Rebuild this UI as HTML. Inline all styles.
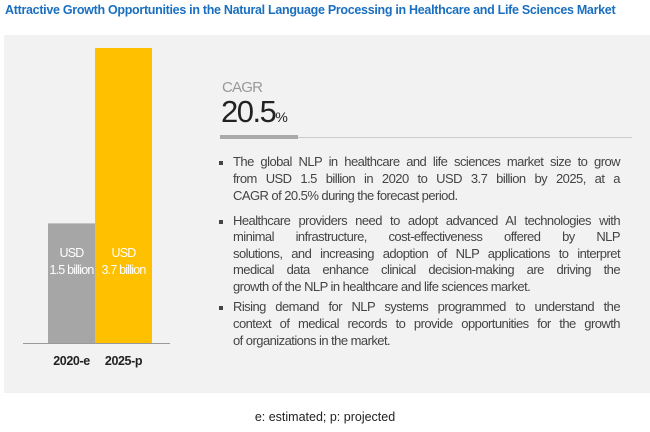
<!DOCTYPE html>
<html><head><meta charset="utf-8"><style>
body{margin:0;width:650px;height:432px;background:#fff;font-family:"Liberation Sans",sans-serif;position:relative;overflow:hidden}
.abs{position:absolute}
#title{left:5px;top:3px;font-size:12.5px;font-weight:bold;color:#1a6fc0;letter-spacing:-0.3px;white-space:nowrap}
#panel{left:4px;top:35px;width:646px;height:358px;background:#f2f2f2}
.bul{position:absolute;left:233px;width:387px;font-size:13px;line-height:16.8px;color:#444;letter-spacing:-0.55px}
.bul span{display:block;text-align:justify;text-align-last:justify;white-space:nowrap}
.bul span.l{text-align-last:left}
.bul::before{content:"";position:absolute;left:-14px;top:7px;width:4px;height:4px;background:#444}
</style></head><body>
<div id="title" class="abs">Attractive Growth Opportunities in the Natural Language Processing in Healthcare and Life Sciences Market</div>
<div id="panel" class="abs"></div>
<svg class="abs" style="left:0;top:0" width="650" height="432" id="chart"></svg>
<div class="abs" style="left:222px;top:79px;font-size:15px;color:#999;letter-spacing:-0.8px">CAGR</div>
<div class="abs" style="left:221px;top:94px;font-size:31px;color:#222;letter-spacing:-1.5px">20.5<span style="font-size:14px;letter-spacing:0">%</span></div>
<div class="abs" style="left:220px;top:137px;width:412px;height:1px;background:#ccc"></div>
<div class="abs" style="left:220px;top:135px;width:78px;height:4px;background:#aaa"></div>
<div class="bul" style="top:154px"><span>The global NLP in healthcare and life sciences market size to grow</span><span>from USD 1.5 billion in 2020 to USD 3.7 billion by 2025, at a</span><span class="l">CAGR of 20.5% during the forecast period.</span></div>
<div class="bul" style="top:213px;line-height:16.4px"><span>Healthcare providers need to adopt advanced AI technologies with</span><span>minimal infrastructure, cost-effectiveness offered by NLP</span><span>solutions, and increasing adoption of NLP applications to interpret</span><span>medical data enhance clinical decision-making are driving the</span><span class="l">growth of the NLP in healthcare and life sciences market.</span></div>
<div class="bul" style="top:299px"><span>Rising demand for NLP systems programmed to understand the</span><span>context of medical records to provide opportunities for the growth</span><span class="l">of organizations in the market.</span></div>
<div class="abs" style="left:0;width:650px;top:410px;text-align:center;font-size:12.5px;color:#222">e: estimated; p: projected</div>
<script>
const categories=["2020-e","2025-p"];
const values=[1.5,3.7];
const valueLabels=["1.5 billion","3.7 billion"];
const colors=["#a6a6a6","#ffc000"];
const svg=document.getElementById('chart');
const NS="http://www.w3.org/2000/svg";
const baseY=343,topY=48,maxV=3.7;
function y(v){return baseY-(v/maxV)*(baseY-topY);}
const x0=48,bw=[47,57];
let cx=x0;
categories.forEach((c,i)=>{
  const r=document.createElementNS(NS,'rect');
  r.setAttribute('x',cx);r.setAttribute('y',y(values[i]));
  r.setAttribute('width',bw[i]);r.setAttribute('height',baseY-y(values[i]));
  r.setAttribute('fill',colors[i]);
  
  
  svg.appendChild(r);
  const mid=cx+bw[i]/2;
  [["USD",257],[valueLabels[i],274]].forEach(([t,yy])=>{
    const tx=document.createElementNS(NS,'text');
    tx.setAttribute('x',mid);tx.setAttribute('y',yy);tx.setAttribute('text-anchor','middle');
    tx.setAttribute('font-size','12.5');tx.setAttribute('fill','#fff');tx.setAttribute('letter-spacing','-0.8');
    tx.setAttribute('font-family','Liberation Sans');tx.textContent=t;
    
    
    svg.appendChild(tx);
  });
  const lb=document.createElementNS(NS,'text');
  lb.setAttribute('x',mid);lb.setAttribute('y',365);lb.setAttribute('text-anchor','middle');
  lb.setAttribute('font-size','12.5');lb.setAttribute('font-weight','bold');lb.setAttribute('fill','#222');lb.setAttribute('letter-spacing','-0.4');
  lb.setAttribute('font-family','Liberation Sans');lb.textContent=c;
  
  
  svg.appendChild(lb);
  cx+=bw[i];
});
const ax=document.createElementNS(NS,'line');
ax.setAttribute('x1',23);ax.setAttribute('x2',170);ax.setAttribute('y1',baseY+0.5);ax.setAttribute('y2',baseY+0.5);
ax.setAttribute('stroke','#999');


svg.appendChild(ax);
</script>
</body></html>
